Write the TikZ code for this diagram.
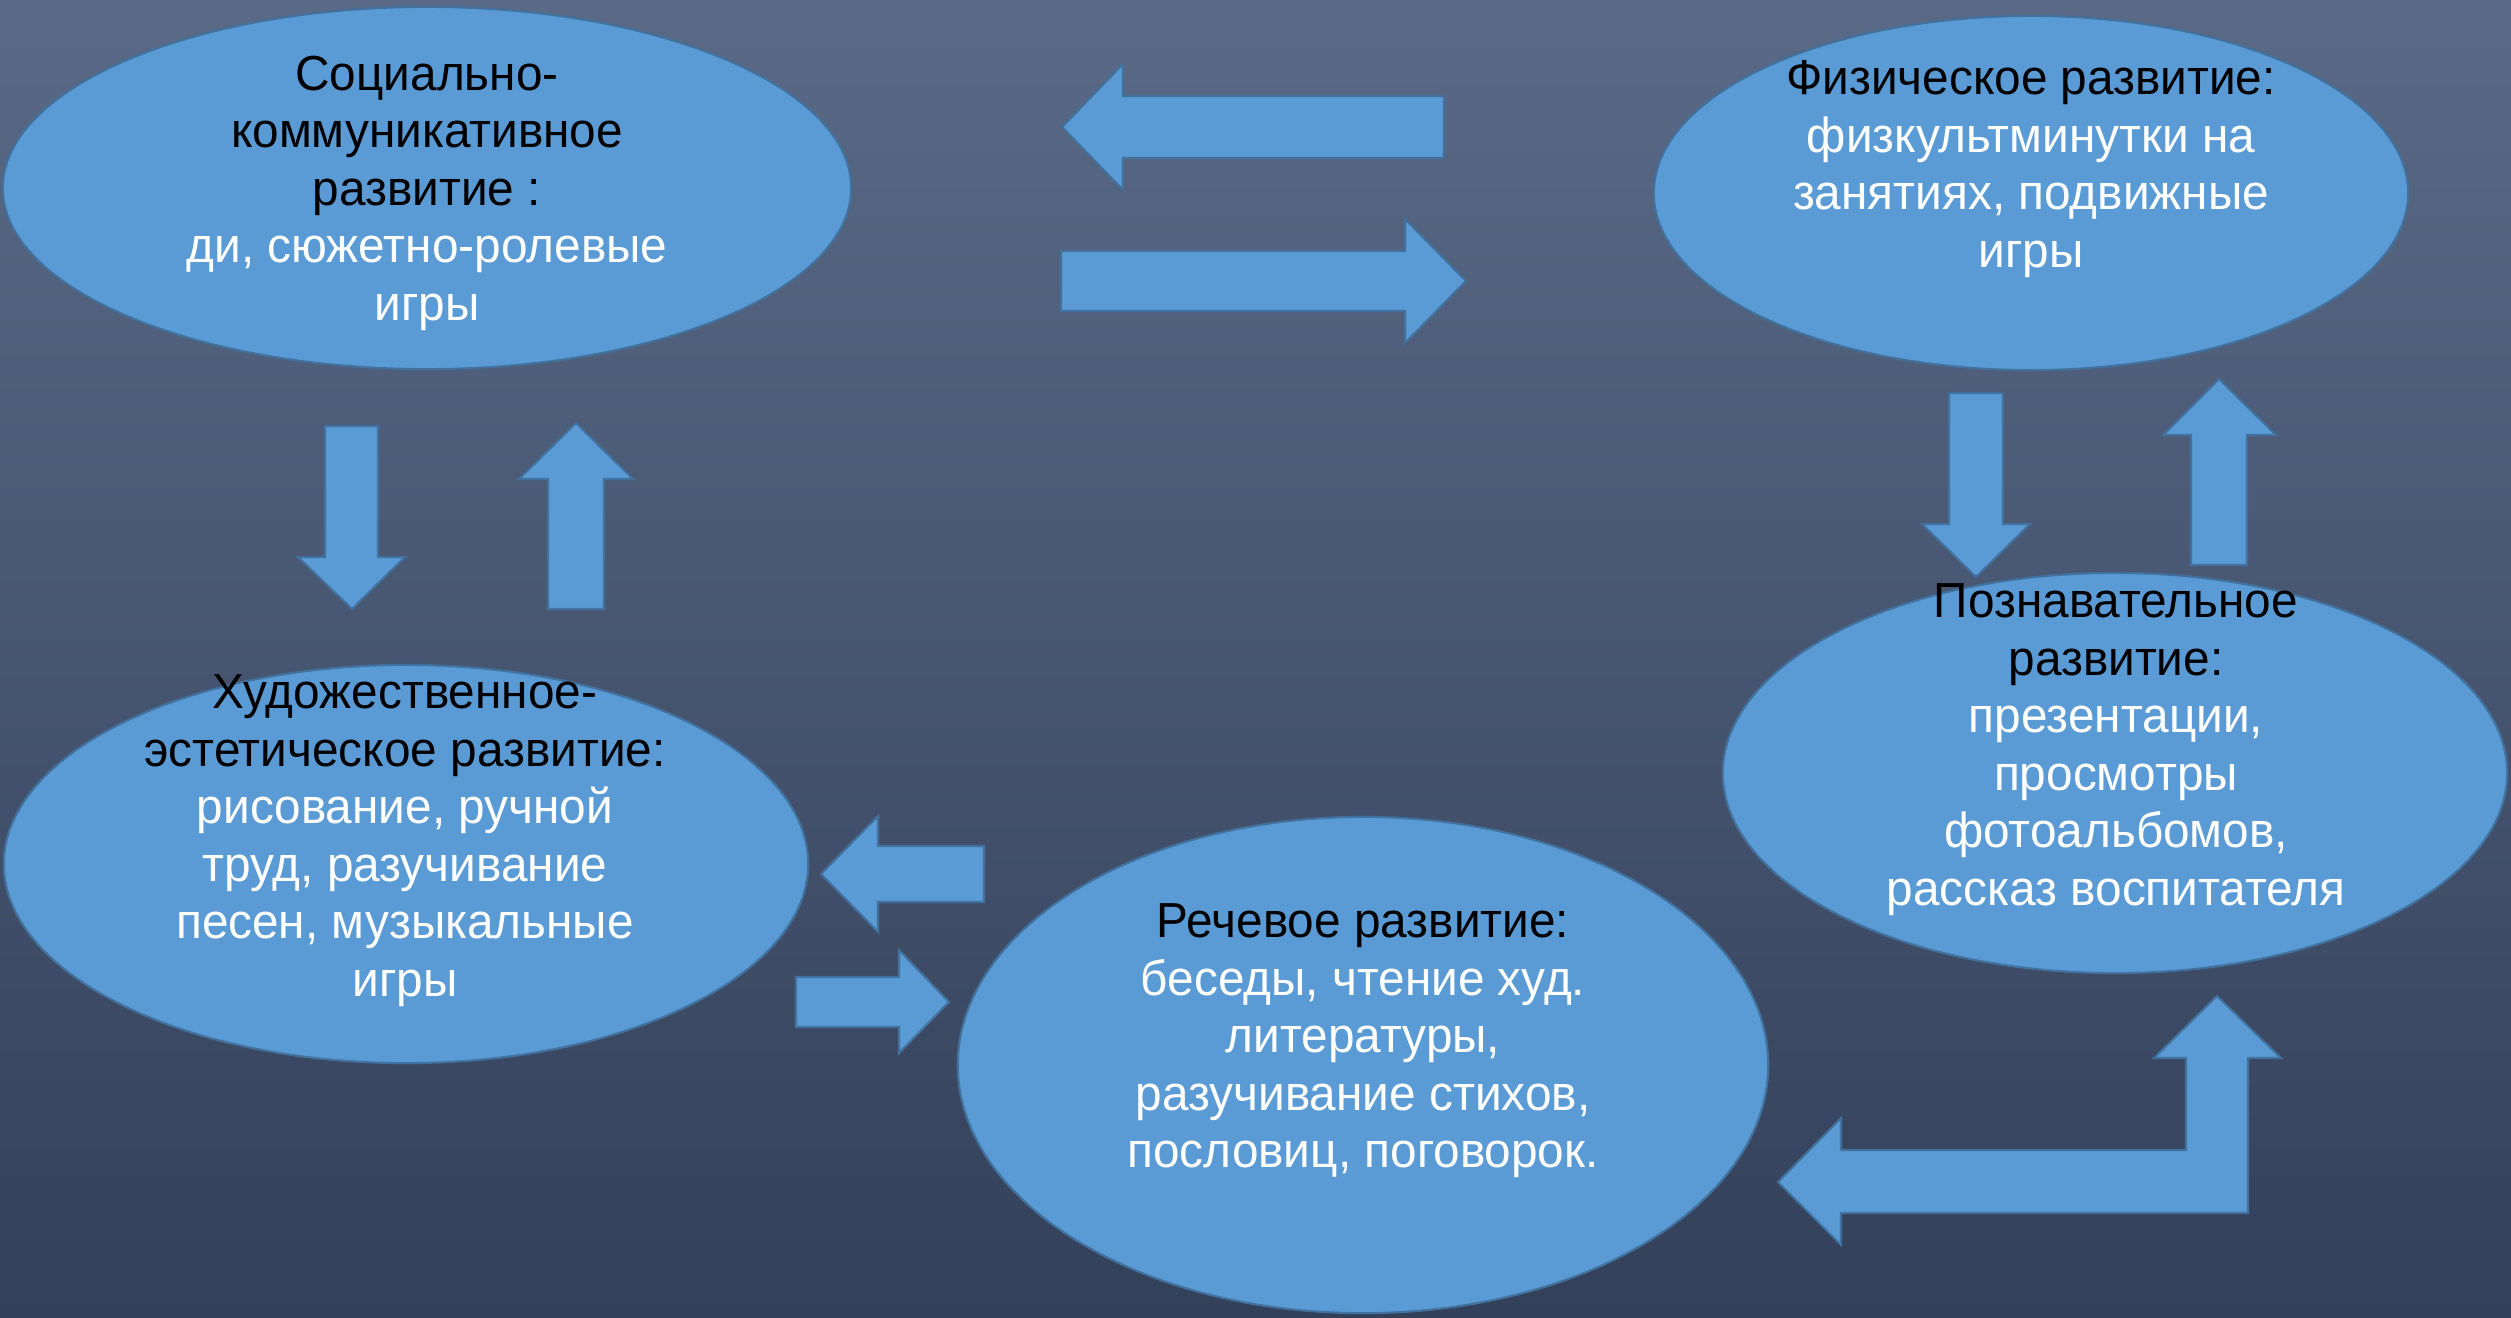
\documentclass[tikz,border=0pt]{standalone}
\usepackage{fontspec}
\setmainfont[FakeStretch=0.97]{Liberation Sans}
\usetikzlibrary{shapes.geometric}
\definecolor{fillblue}{HTML}{5B9BD5}
\definecolor{edgeblue}{HTML}{41719C}
\definecolor{bgtop}{HTML}{5A6A86}
\definecolor{bgbot}{HTML}{33405A}
\tikzset{
  oval/.style={ellipse, fill=fillblue, draw=edgeblue, line width=0.6pt, inner sep=0pt},
  blockarrow/.style={fill=fillblue, draw=edgeblue, line width=0.6pt, line join=miter},
  txt/.style={anchor=north, inner sep=0pt, align=center, text=white,
    font=\fontsize{14pt}{16.35pt}\selectfont},
}
\begin{document}
\begin{tikzpicture}[x=0.01cm, y=-0.01cm]
\useasboundingbox (0,0) rectangle (2511,1318);
\shade[top color=bgtop, bottom color=bgbot] (0,0) rectangle (2511,1318);

% ovals
\node[oval, minimum width=8.48cm, minimum height=3.62cm] (soc) at (427,188) {};
\node[oval, minimum width=7.54cm, minimum height=3.54cm] (phys) at (2031,193) {};
\node[oval, minimum width=7.84cm, minimum height=4.00cm] (cog) at (2115,773) {};
\node[oval, minimum width=8.04cm, minimum height=3.98cm] (art) at (406,864) {};
\node[oval, minimum width=8.10cm, minimum height=4.96cm] (speech) at (1363,1065) {};

% arrows between social and physical
\draw[blockarrow] (1062,127) -- (1123,64) -- (1123,96) -- (1444,96) -- (1444,158) -- (1123,158) -- (1123,190) -- cycle;
\draw[blockarrow] (1466,281) -- (1405,219) -- (1405,251) -- (1061,251) -- (1061,311) -- (1405,311) -- (1405,343) -- cycle;
% arrows between social and artistic
\draw[blockarrow] (352,609) -- (298,557) -- (325,557) -- (325,426) -- (378,426) -- (378,557) -- (405,557) -- cycle;
\draw[blockarrow] (576,423) -- (633,479) -- (604,479) -- (604,609) -- (548,609) -- (548,479) -- (519,479) -- cycle;
% arrows between physical and cognitive
\draw[blockarrow] (1976,577) -- (1922,524) -- (1949,524) -- (1949,393) -- (2003,393) -- (2003,524) -- (2030,524) -- cycle;
\draw[blockarrow] (2219,379) -- (2276,435) -- (2247,435) -- (2247,565) -- (2191,565) -- (2191,435) -- (2163,435) -- cycle;
% arrows between artistic and speech
\draw[blockarrow] (821,874) -- (878,816) -- (878,846) -- (984,846) -- (984,902) -- (878,902) -- (878,932) -- cycle;
\draw[blockarrow] (949,1002) -- (899,950) -- (899,977) -- (796,977) -- (796,1027) -- (899,1027) -- (899,1053) -- cycle;
% bent arrow between speech and cognitive
\draw[blockarrow] (2217,996) -- (2281,1058) -- (2248,1058) -- (2248,1213) -- (1841,1213) -- (1841,1245) -- (1778,1182) -- (1841,1118) -- (1841,1150) -- (2186,1150) -- (2186,1058) -- (2154,1058) -- cycle;

% texts
\node[txt] (soct) at (427,55) {\textcolor{black}{Социально-}\\\textcolor{black}{коммуникативное}\\\textcolor{black}{развитие :}\\ди, сюжетно-ролевые\\игры};
\node[txt] (physt) at (2031,60) {\textcolor{black}{Физическое развитие:}\\физкультминутки на\\занятиях, подвижные\\игры};
\node[txt] (cogt) at (2116,583) {\textcolor{black}{Познавательное}\\\textcolor{black}{развитие:}\\презентации,\\просмотры\\фотоальбомов,\\рассказ воспитателя};
\node[txt] (artt) at (405,674) {\textcolor{black}{Художественное-}\\\textcolor{black}{эстетическое развитие:}\\рисование, ручной\\труд, разучивание\\песен, музыкальные\\игры};
\node[txt] (speecht) at (1363,903) {\textcolor{black}{Речевое развитие:}\\беседы, чтение худ.\\литературы,\\разучивание стихов,\\пословиц, поговорок.};
\end{tikzpicture}
\end{document}
